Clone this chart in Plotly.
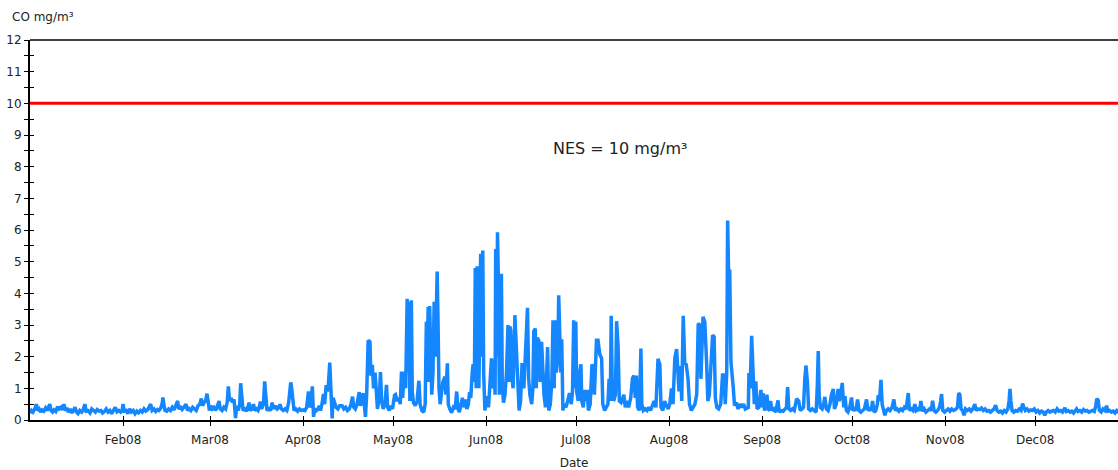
import pandas as pd
import plotly.graph_objects as go

# Hourly-ish CO readings for 2008, as (day of year from 1 Jan, mg/m³) pairs, month by month
jan = [(0, 0.22), (0.5, 0.3), (1, 0.25), (1.6, 0.35), (2.1, 0.5), (2.5, 0.3), (3, 0.35), (3.5, 0.25),
       (4, 0.32), (4.6, 0.28), (5.2, 0.38), (5.7, 0.3), (6.6, 0.5), (7, 0.3), (7.5, 0.25), (8, 0.32),
       (8.6, 0.27), (9.2, 0.42), (9.7, 0.35), (10.3, 0.4), (10.8, 0.32), (11.3, 0.5), (11.8, 0.3),
       (12.3, 0.38), (12.8, 0.25), (13.4, 0.35), (14, 0.22), (14.5, 0.3), (15, 0.4), (15.5, 0.25),
       (16, 0.2), (16.6, 0.3), (17.2, 0.25), (17.7, 0.32), (18.3, 0.5), (18.7, 0.28), (19.3, 0.3),
       (20, 0.22), (20.6, 0.35), (21.2, 0.3), (21.8, 0.25), (22.4, 0.33), (23, 0.28), (23.6, 0.3),
       (24.2, 0.22), (24.8, 0.27), (25.4, 0.35), (26, 0.25), (26.6, 0.3), (27.2, 0.2), (27.8, 0.3),
       (28.4, 0.4), (29, 0.26), (29.6, 0.3), (30.2, 0.25), (30.7, 0.3)]
feb = [(31, 0.5), (31.4, 0.28), (32, 0.3), (32.6, 0.2), (33.2, 0.35), (33.8, 0.25), (34.4, 0.3),
       (35, 0.2), (35.6, 0.28), (36.2, 0.23), (36.8, 0.3), (37.4, 0.25), (38, 0.35), (38.6, 0.28),
       (39.2, 0.32), (39.7, 0.42), (40.2, 0.5), (40.7, 0.3), (41.3, 0.35), (41.9, 0.27), (42.5, 0.33),
       (43, 0.3), (43.6, 0.38), (44.1, 0.55), (44.3, 0.71), (44.6, 0.5), (45, 0.3), (45.6, 0.28),
       (46.2, 0.35), (46.8, 0.3), (47.4, 0.4), (48, 0.32), (48.6, 0.45), (49.2, 0.6), (49.6, 0.35),
       (50.2, 0.4), (50.7, 0.33), (51.3, 0.42), (52, 0.5), (52.5, 0.3), (53, 0.36), (53.6, 0.3),
       (54.2, 0.4), (54.8, 0.35), (55.4, 0.3), (56, 0.45), (56.6, 0.5), (57.1, 0.68), (57.5, 0.45),
       (58, 0.55), (58.5, 0.6), (59, 0.83), (59.4, 0.5)]
mar = [(59.8, 0.3), (60.3, 0.45), (60.8, 0.35), (61.3, 0.4), (61.9, 0.3), (62.5, 0.45), (63, 0.6),
       (63.4, 0.35), (64, 0.3), (64.6, 0.4), (65.2, 0.35), (65.7, 0.55), (66.1, 1.06), (66.5, 0.6),
       (67, 0.7), (67.5, 0.55), (68, 0.65), (68.5, 0.06), (68.9, 0.45), (69.4, 0.3), (69.9, 0.5),
       (70.2, 1.16), (70.6, 0.6), (71, 0.3), (71.6, 0.35), (72.2, 0.28), (72.6, 0.4), (73, 0.55),
       (73.4, 0.3), (74, 0.35), (74.5, 0.5), (74.9, 0.3), (75.5, 0.35), (76, 0.3), (76.5, 0.45),
       (76.8, 0.58), (77.2, 0.35), (77.8, 0.5), (78.2, 1.22), (78.6, 0.6), (79, 0.3), (79.6, 0.35),
       (80.2, 0.3), (80.7, 0.55), (81.2, 0.35), (81.8, 0.45), (82.4, 0.35), (83, 0.4), (83.3, 0.5),
       (83.8, 0.35), (84.4, 0.3), (85, 0.35), (85.6, 0.3), (86.2, 0.55), (86.6, 0.9), (86.9, 1.19),
       (87.2, 1.0), (87.6, 0.5), (88, 0.3), (88.6, 0.35), (89.2, 0.28), (89.8, 0.35), (90.4, 0.3)]
apr = [(91, 0.32), (91.6, 0.3), (92.2, 0.4), (92.8, 0.9), (93.2, 0.4), (93.6, 0.5), (94.1, 1.06),
       (94.5, 0.1), (94.9, 0.35), (95.5, 0.3), (96, 0.35), (96.4, 0.45), (96.8, 0.3), (97.3, 0.5),
       (97.8, 0.82), (98.2, 0.5), (98.7, 1.1), (99.3, 0.9), (99.9, 1.81), (100.3, 0.7), (100.7, 0.05),
       (101, 0.7), (101.5, 0.5), (102, 0.4), (102.6, 0.35), (103.2, 0.45), (104, 0.45), (104.6, 0.35),
       (105.2, 0.4), (105.8, 0.3), (106.4, 0.35), (107, 0.5), (107.5, 0.74), (107.9, 0.4), (108.4, 0.35),
       (109, 0.5), (109.7, 0.88), (110.1, 0.45), (110.6, 0.6), (111, 0.85), (111.4, 0.5), (111.8, 0.1),
       (112.2, 0.8), (112.7, 2.52), (113.3, 2.47), (113.6, 1.4), (114.1, 1.74), (114.5, 1.0),
       (115, 1.5), (115.4, 0.6), (115.8, 0.35), (116.4, 0.7), (116.8, 1.51), (117.2, 0.6),
       (117.7, 0.35), (118.3, 0.5), (118.8, 1.11), (119.2, 0.4), (119.7, 0.3), (120.3, 0.45),
       (120.8, 0.35)]
may = [(121.5, 0.78), (121.8, 0.8), (122.3, 0.6), (122.9, 0.7), (123.4, 0.5), (123.8, 1.53),
       (124.2, 0.7), (124.7, 1.53), (125.2, 1.0), (125.7, 3.83), (126.0, 1.5), (126.3, 3.73),
       (126.6, 0.6), (127.1, 3.78), (127.4, 0.9), (127.8, 0.55), (128.4, 0.45), (129, 0.6),
       (129.6, 1.24), (130, 0.5), (130.6, 0.3), (131.2, 0.25), (131.7, 0.5), (132.1, 3.1),
       (132.4, 2.2), (132.7, 3.57), (133, 1.2), (133.2, 3.6), (133.6, 1.95), (133.9, 0.8),
       (134.3, 1.5), (134.7, 3.73), (135.1, 2.0), (135.4, 3.7), (135.7, 4.69), (136, 3.0),
       (136.3, 1.0), (136.7, 0.5), (137.1, 0.8), (137.6, 1.2), (138.3, 1.37), (138.6, 0.8),
       (139.1, 1.79), (139.4, 0.5), (139.9, 0.35), (140.5, 0.23), (141.1, 0.4), (141.7, 0.35),
       (142.2, 0.9), (142.6, 0.35), (143.1, 0.25), (143.6, 0.45), (144.1, 0.7), (144.6, 0.4),
       (145.1, 0.65), (145.6, 0.35), (146.1, 0.5), (146.5, 0.88), (146.9, 0.7), (147.4, 1.53),
       (147.7, 1.76), (148.1, 1.2), (148.4, 4.8), (148.7, 1.0), (149, 4.8), (149.3, 4.8),
       (149.6, 1.0), (150.2, 5.25), (150.5, 2.0), (150.9, 5.35), (151.2, 1.46), (151.6, 0.3)]
jun = [(152, 0.5), (152.4, 0.75), (152.8, 0.4), (153.3, 1.0), (153.8, 1.95), (154.2, 1.0),
       (154.6, 1.9), (155.0, 0.8), (155.2, 5.4), (155.5, 2.0), (155.8, 5.93), (156.1, 4.4),
       (156.4, 0.8), (156.8, 1.5), (157.1, 4.62), (157.4, 1.1), (157.8, 0.55), (158.3, 0.8),
       (158.8, 1.5), (159.3, 3.0), (159.6, 1.2), (159.9, 2.95), (160.2, 2.85), (160.6, 1.4),
       (161.0, 1.0), (161.6, 3.31), (161.9, 2.6), (162.2, 2.4), (162.6, 1.5), (163, 0.3),
       (163.5, 0.6), (164, 1.8), (164.6, 1.0), (165.2, 2.6), (165.8, 3.54), (166.2, 1.3),
       (166.6, 0.8), (167.2, 0.5), (167.6, 1.0), (167.9, 2.8), (168.4, 2.89), (168.7, 1.0),
       (169.1, 2.6), (169.6, 2.5), (170, 1.2), (170.5, 2.47), (170.9, 1.6), (171.3, 0.8),
       (171.8, 0.4), (172.5, 2.3), (172.9, 0.3), (173.4, 0.5), (173.9, 1.2), (174.3, 3.15),
       (174.7, 1.0), (175.0, 3.15), (175.4, 1.5), (175.9, 2.0), (176.2, 3.94), (176.6, 2.6),
       (176.9, 1.5), (177.2, 2.55), (177.6, 0.3), (178, 0.5), (178.6, 0.4), (179.2, 0.6),
       (179.8, 0.85), (180.4, 0.5), (180.8, 0.9)]
jul = [(181.2, 3.15), (181.6, 1.0), (181.9, 3.1), (182.2, 0.9), (182.7, 0.6), (183.1, 1.42),
       (183.6, 1.76), (183.9, 0.6), (184.4, 0.4), (184.9, 0.95), (185.3, 0.6), (185.7, 0.95),
       (186.1, 0.3), (186.7, 0.5), (187.3, 1.76), (187.7, 1.6), (188.1, 0.8), (188.8, 2.52),
       (189.3, 2.52), (189.9, 2.07), (190.5, 1.95), (190.9, 0.5), (191.5, 0.3), (192.1, 0.45),
       (192.6, 0.5), (193, 1.3), (193.4, 0.6), (193.7, 3.29), (194, 1.3), (194.5, 0.6), (195.1, 0.8),
       (195.5, 3.12), (196, 2.3), (196.4, 0.6), (197, 0.55), (197.4, 0.65), (197.9, 0.8),
       (198.4, 0.4), (198.9, 0.6), (199.5, 0.4), (200.2, 0.7), (200.8, 1.32), (201.3, 1.4),
       (201.7, 0.7), (202.1, 1.4), (202.5, 0.4), (203.1, 0.3), (203.6, 2.26), (203.9, 0.5),
       (204.4, 0.3), (205, 0.35), (205.6, 0.3), (206.2, 0.4), (206.8, 0.3), (207.4, 0.5),
       (208, 0.6), (208.6, 0.4), (209.3, 1.93), (209.9, 1.75), (210.3, 0.4), (210.9, 0.3),
       (211.5, 0.6), (212.1, 0.45), (212.7, 0.35)]
aug = [(213.2, 0.5), (213.8, 1.0), (214.3, 0.5), (214.9, 1.95), (215.5, 2.24), (215.9, 1.7),
       (216.3, 0.9), (216.8, 1.7), (217.2, 0.6), (217.7, 3.29), (218.2, 1.8), (218.7, 1.75),
       (219.3, 1.3), (219.8, 0.5), (220.4, 0.3), (221, 0.4), (221.6, 0.5), (222.2, 0.8),
       (222.7, 3.05), (223.2, 3.0), (223.6, 1.3), (224.3, 3.26), (224.9, 3.1), (225.5, 1.8),
       (225.9, 0.6), (226.4, 0.8), (227.5, 2.68), (228, 2.63), (228.4, 0.7), (228.9, 0.4),
       (229.5, 0.35), (230.2, 0.5), (230.8, 1.42), (231.3, 1.42), (231.7, 0.5), (232.2, 1.5),
       (232.5, 6.3), (232.8, 4.7), (233.2, 4.7), (233.6, 1.84), (234, 1.2), (234.4, 1.0),
       (234.8, 0.45), (235.4, 0.55), (236, 0.35), (236.6, 0.5), (237.2, 0.4), (237.8, 0.5),
       (238.4, 0.35), (238.9, 0.38), (239.4, 0.4), (239.6, 1.48), (240, 1.0), (240.5, 2.66),
       (241, 1.5), (241.4, 0.5), (241.9, 1.22), (242.3, 0.35), (242.9, 0.4), (243.6, 0.95)]
sep = [(244, 0.4), (244.3, 0.85), (244.8, 0.3), (245.3, 0.5), (245.6, 0.8), (246, 0.35),
       (246.5, 0.3), (246.8, 0.6), (247.3, 0.3), (247.9, 0.35), (248.5, 0.25), (249.3, 0.62),
       (249.7, 0.25), (250.3, 0.3), (251, 0.28), (251.6, 0.35), (252.1, 0.4), (252.5, 1.04),
       (252.9, 0.35), (253.5, 0.3), (254.1, 0.35), (254.7, 0.3), (255.1, 0.5), (255.5, 0.67),
       (256.2, 0.6), (256.7, 0.3), (257.3, 0.35), (257.8, 0.4), (258.2, 1.27), (258.6, 1.72),
       (259.1, 1.2), (259.5, 0.35), (260.1, 0.3), (260.7, 0.35), (261.3, 0.3), (262, 0.25),
       (262.4, 1.1), (262.7, 2.18), (263, 0.8), (263.4, 0.4), (264, 0.35), (264.5, 0.5),
       (264.9, 0.73), (265.4, 0.35), (266, 0.3), (266.6, 0.5), (267.1, 0.8), (267.7, 0.98),
       (268.1, 0.35), (268.7, 0.5), (269.3, 0.98), (269.7, 0.6), (270.2, 0.8), (270.7, 1.17),
       (271.2, 0.4), (271.6, 0.75), (272.1, 0.3), (272.6, 0.25), (273.2, 0.4), (273.8, 0.71)]
oct_ = [(274.2, 0.3), (274.8, 0.35), (275.3, 0.3), (275.8, 0.65), (276.3, 0.3), (276.9, 0.25),
        (277.5, 0.3), (278.1, 0.35), (278.8, 0.65), (279.3, 0.3), (279.9, 0.35), (280.4, 0.3),
        (280.8, 0.6), (281.3, 0.25), (281.9, 0.3), (282.4, 0.5), (282.7, 0.78), (283.1, 0.6),
        (283.6, 1.27), (284, 0.5), (284.5, 0.3), (284.9, 0.15), (285.4, 0.3), (286, 0.35),
        (286.6, 0.3), (287.3, 0.4), (287.9, 0.65), (288.4, 0.3), (289, 0.35), (289.6, 0.28),
        (290.2, 0.35), (290.8, 0.3), (291.4, 0.4), (292, 0.35), (292.7, 0.85), (293.1, 0.3),
        (293.7, 0.35), (294.3, 0.3), (294.9, 0.5), (295.4, 0.3), (296, 0.35), (296.5, 0.3),
        (296.9, 0.6), (297.4, 0.28), (298, 0.35), (298.6, 0.25), (299.2, 0.3), (299.8, 0.35),
        (300.4, 0.3), (300.8, 0.61), (301.3, 0.3), (301.9, 0.25), (302.5, 0.3), (303.1, 0.4),
        (303.5, 0.6), (303.8, 0.82), (304.2, 0.3), (304.8, 0.25)]
nov = [(305.4, 0.3), (306, 0.35), (306.6, 0.28), (307.2, 0.35), (307.8, 0.3), (308.4, 0.33),
       (309.1, 0.4), (309.5, 0.85), (309.9, 0.8), (310.3, 0.35), (310.8, 0.3), (311.3, 0.15),
       (311.8, 0.35), (312.4, 0.3), (313, 0.35), (313.6, 0.28), (314.2, 0.35), (314.9, 0.5),
       (315.3, 0.3), (315.9, 0.35), (316.5, 0.33), (317.1, 0.38), (317.7, 0.3), (318.3, 0.35),
       (318.9, 0.28), (319.5, 0.3), (320.1, 0.25), (320.7, 0.3), (321.3, 0.35), (321.8, 0.47),
       (322.3, 0.3), (322.9, 0.25), (323.5, 0.28), (324.1, 0.22), (324.7, 0.3), (325.3, 0.25),
       (325.9, 0.35), (326.3, 0.6), (326.6, 0.98), (326.9, 0.6), (327.3, 0.3), (327.9, 0.25),
       (328.5, 0.3), (329.1, 0.28), (329.7, 0.35), (330.3, 0.3), (330.8, 0.52), (331.2, 0.4),
       (331.7, 0.3), (332.3, 0.35), (332.9, 0.28), (333.5, 0.32), (334.1, 0.3), (334.7, 0.35)]
dec = [(335.3, 0.25), (335.9, 0.3), (336.5, 0.22), (337.1, 0.28), (337.7, 0.25), (338.2, 0.15),
       (338.7, 0.25), (339.3, 0.3), (339.9, 0.25), (340.5, 0.28), (341.1, 0.3), (341.7, 0.25),
       (342.3, 0.35), (342.9, 0.28), (343.5, 0.3), (344.1, 0.25), (344.9, 0.38), (345.4, 0.27),
       (346, 0.3), (346.6, 0.25), (347.2, 0.28), (347.8, 0.22), (348.4, 0.3), (348.8, 0.35),
       (349.3, 0.27), (349.9, 0.3), (350.5, 0.25), (351.1, 0.33), (351.7, 0.28), (352.3, 0.3),
       (352.9, 0.25), (353.5, 0.28), (354.1, 0.3), (354.7, 0.27), (355.2, 0.45), (355.5, 0.67),
       (356, 0.62), (356.4, 0.3), (357, 0.25), (357.6, 0.35), (358.2, 0.3), (358.8, 0.45),
       (359.2, 0.28), (359.8, 0.3), (360.4, 0.25), (361, 0.28), (361.6, 0.22), (362.2, 0.3),
       (362.8, 0.25), (363.4, 0.28), (364, 0.25), (364.6, 0.3), (365.2, 0.27), (365.8, 0.25)]

nes_limit = 10  # national standard, mg/m³
y_ticks = list(range(0, 13))

series = jan + feb + mar + apr + may + jun + jul + aug + sep + oct_ + nov + dec
start = pd.Timestamp("2008-01-01")
times = start + pd.to_timedelta([d for d, _ in series], unit="D")
co = [v for _, v in series]

month_ticks = pd.date_range("2008-02-01", "2008-12-01", freq="MS")
x_range = [start, start + pd.Timedelta(days=362.6)]

fig = go.Figure()
fig.add_trace(go.Scatter(x=times, y=co, mode="lines",
                         line=dict(color="#1487FF", width=3.5),
                         showlegend=False, hoverinfo="skip"))

axis_font = dict(family="DejaVu Sans", size=12, color="#222222")

fig.update_layout(
    width=1118, height=470,
    margin=dict(l=30, r=0, t=40, b=48),
    paper_bgcolor="white", plot_bgcolor="white",
    font=dict(family="DejaVu Sans", size=12, color="#222222"),
    xaxis=dict(range=x_range, showgrid=False, zeroline=False,
               showline=True, linecolor="black", linewidth=2,
               ticks="outside", ticklen=4, tickcolor="black", tickwidth=1,
               tickvals=month_ticks, tickformat="%b%y", tickfont=axis_font,
               ticklabelstandoff=4,
               title=dict(text="Date", font=axis_font, standoff=14)),
    yaxis=dict(range=[0, 12], showgrid=False, zeroline=False,
               showline=True, linecolor="black", linewidth=2,
               ticks="outside", ticklen=4, tickcolor="black", tickwidth=1,
               tickvals=y_ticks, tickfont=axis_font,
               minor=dict(dtick=0.5, ticks="outside", ticklen=4, tickcolor="black", tickwidth=1)),
    # inner halves of the tick marks so they cross the axis lines
    xaxis2=dict(overlaying="x", anchor="y", side="bottom", range=x_range,
                showgrid=False, zeroline=False, showline=False,
                ticks="inside", ticklen=4, tickcolor="black", tickwidth=1,
                tickvals=month_ticks, showticklabels=False),
    yaxis2=dict(overlaying="y", anchor="x", side="left", range=[0, 12],
                showgrid=False, zeroline=False, showline=False,
                ticks="inside", ticklen=4, tickcolor="black", tickwidth=1,
                dtick=0.5, tick0=0, showticklabels=False),
    shapes=[
        dict(type="line", xref="paper", x0=0, x1=1, yref="y", y0=nes_limit, y1=nes_limit,
             line=dict(color="#FF0000", width=3)),
        dict(type="line", xref="paper", x0=0, x1=1, yref="paper", y0=1, y1=1,
             line=dict(color="black", width=1.5)),
    ],
    annotations=[
        dict(text="CO mg/m³", xref="paper", yref="paper", x=-0.0185, y=1.06,
             xanchor="left", yanchor="middle", showarrow=False,
             font=dict(family="DejaVu Sans", size=12, color="#222222")),
        dict(text=f"NES = {nes_limit} mg/m³", xref="paper", yref="y", x=0.542, y=8.58,
             xanchor="center", yanchor="middle", showarrow=False,
             font=dict(family="DejaVu Sans", size=16, color="#222222")),
    ],
)

# invisible companion trace so the overlay axes are rendered
fig.add_trace(go.Scatter(x=[times[0]], y=[co[0]], xaxis="x2", yaxis="y2", mode="lines",
                         line=dict(width=0), showlegend=False, hoverinfo="skip"))

fig.write_html("out.html")
